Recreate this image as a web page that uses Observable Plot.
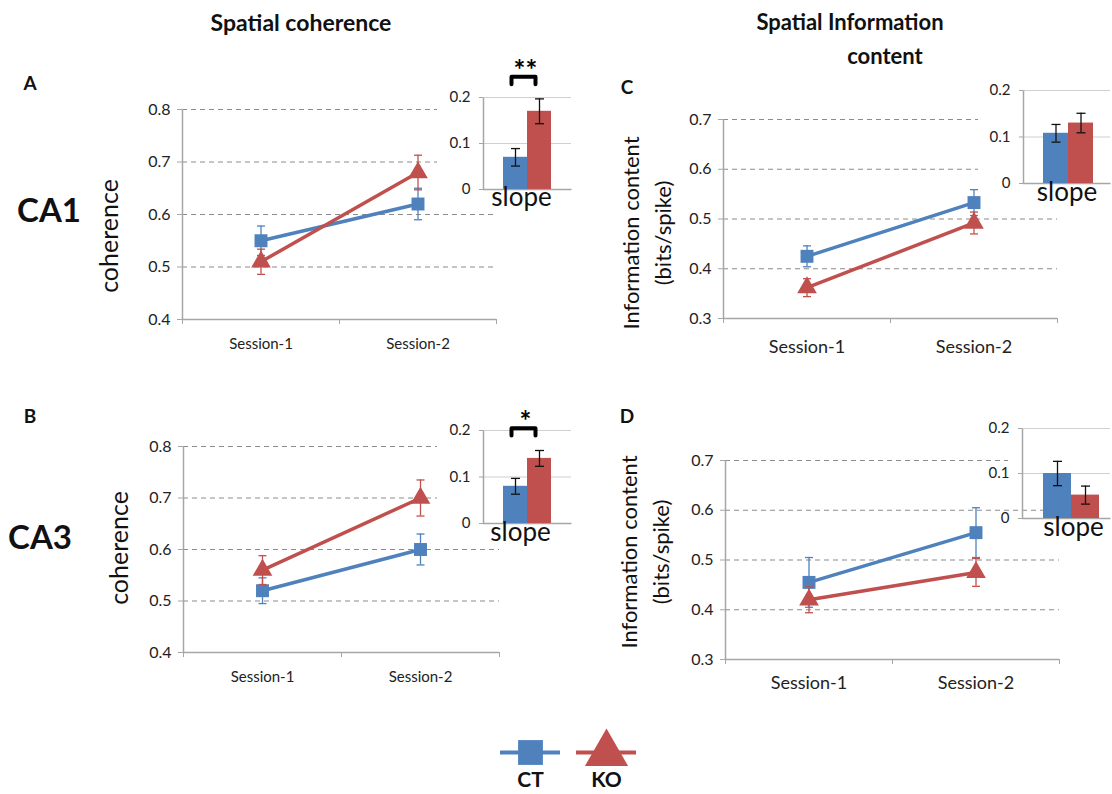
<!DOCTYPE html>
<html><head><meta charset="utf-8">
<script src="https://cdn.jsdelivr.net/npm/d3@7"></script>
<script src="https://cdn.jsdelivr.net/npm/@observablehq/plot@0.6"></script>
<style>
body{margin:0;background:#fff;font-family:Lato,"Open Sans",sans-serif;}
#root{position:relative;width:1112px;height:794px;overflow:hidden;background:#fff;}
.lbl{position:absolute;white-space:nowrap;line-height:1;color:#111;transform:translate(-50%,-50%);}
.bg{position:absolute;background:#fff;}
</style></head><body><div id="root"></div>
<script>
// ---------- data ----------
const sessions = ["Session-1", "Session-2"];
const groups = ["CT", "KO"];
const colors = ["#4F81BD", "#C0504D"];
const symbols = ["square", "triangle"];

// Panel A: CA1 spatial coherence
const aCT = [0.55, 0.62], aCTErr = [0.028, 0.030];
const aKO = [0.51, 0.68], aKOErr = [0.024, 0.033];
const aSlope = [0.07, 0.17], aSlopeErr = [0.019, 0.027];
// Panel B: CA3 spatial coherence
const bCT = [0.52, 0.60], bCTErr = [0.025, 0.030];
const bKO = [0.56, 0.70], bKOErr = [0.028, 0.035];
const bSlope = [0.08, 0.14], bSlopeErr = [0.017, 0.017];
// Panel C: CA1 information content
const cCT = [0.425, 0.533], cCTErr = [0.021, 0.026];
const cKO = [0.362, 0.492], cKOErr = [0.018, 0.022];
const cSlope = [0.108, 0.130], cSlopeErr = [0.019, 0.021];
// Panel D: CA3 information content
const dCT = [0.455, 0.555], dCTErr = [0.050, 0.050];
const dKO = [0.420, 0.475], dKOErr = [0.026, 0.028];
const dSlope = [0.100, 0.052], dSlopeErr = [0.027, 0.020];

const coherenceTicks = [0.4, 0.5, 0.6, 0.7, 0.8];
const infoTicks = [0.3, 0.4, 0.5, 0.6, 0.7];
const slopeTicks = [0, 0.1, 0.2];

// ---------- helpers ----------
const root = document.getElementById("root");
const FONT = "Lato, 'Open Sans', sans-serif";
const axisGray = "#a6a6a6";
const cap = {draw(ctx, size) { const w = Math.sqrt(size / Math.PI); ctx.moveTo(-w, 0); ctx.lineTo(w, 0); }};

function place(node, left, top) {
  node.style.position = "absolute"; node.style.left = left + "px"; node.style.top = top + "px";
  root.appendChild(node);
}
function label(text, cx, cy, size, weight = 400, rotate = 0) {
  const d = document.createElement("div");
  d.className = "lbl"; d.textContent = text;
  d.style.left = cx + "px"; d.style.top = cy + "px";
  d.style.fontSize = size + "px"; d.style.fontWeight = weight;
  d.style.transform = `translate(-50%,-50%) rotate(${rotate}deg)`;
  root.appendChild(d);
}
function whiteBox(x, y, w, h) {
  const d = document.createElement("div");
  d.className = "bg";
  d.style.left = x + "px"; d.style.top = y + "px"; d.style.width = w + "px"; d.style.height = h + "px";
  root.appendChild(d);
}

function mainPanel(o) {
  const rows = [];
  o.series.forEach((s, k) => s.vals.forEach((v, i) =>
    rows.push({group: groups[k], session: sessions[i], pos: i + 0.5, v, e: s.errs[i]})));
  const marks = [
    Plot.gridY(o.ticks.slice(1), {stroke: "#8c8c8c", strokeOpacity: 1, strokeDasharray: "5,4", strokeWidth: 1.2}),
    Plot.ruleY([o.ticks[0]], {stroke: axisGray, strokeWidth: 1.5}),
    Plot.ruleX([0], {stroke: axisGray, strokeWidth: 1.5}),
    Plot.axisY({ticks: o.ticks, tickSize: 5, tickPadding: 7, tickFormat: d3.format(".1f"),
      stroke: axisGray, fill: "#222", fontSize: o.tickFont, label: null}),
    Plot.axisX({ticks: d3.range(sessions.length + 1), tickSize: 5, tickFormat: () => "", stroke: axisGray, label: null}),
    Plot.axisX({ticks: sessions.map((_, i) => i + 0.5), tickSize: 0, tickPadding: o.sessPad,
      tickFormat: d => sessions[Math.floor(d)], fill: "#222", fontSize: o.sessFont, label: null})
  ];
  groups.forEach((g, k) => {
    const d = rows.filter(r => r.group === g);
    marks.push(
      Plot.ruleX(d, {x: "pos", y1: r => r.v - r.e, y2: r => r.v + r.e, stroke: colors[k], strokeWidth: 1.3}),
      Plot.dot(d, {x: "pos", y: r => r.v - r.e, symbol: cap, r: 4, stroke: colors[k], strokeWidth: 1.3, fill: "none"}),
      Plot.dot(d, {x: "pos", y: r => r.v + r.e, symbol: cap, r: 4, stroke: colors[k], strokeWidth: 1.3, fill: "none"}),
      Plot.line(d, {x: "pos", y: "v", stroke: colors[k], strokeWidth: 3.5}),
      Plot.dot(d, {x: "pos", y: "v", symbol: symbols[k], r: 7.3, fill: colors[k], stroke: "none"})
    );
  });
  const svg = Plot.plot({
    width: o.w, height: o.h,
    marginLeft: o.mL, marginRight: o.mR, marginTop: o.mT, marginBottom: o.mB,
    x: {domain: [0, sessions.length], label: null},
    y: {domain: [o.ticks[0], o.ticks[o.ticks.length - 1]], label: null},
    style: {background: "transparent", fontFamily: FONT, overflow: "visible"},
    marks
  });
  place(svg, o.left, o.top);
}

function insetPanel(o) {
  const rows = groups.map((g, k) => ({group: g, v: o.vals[k], e: o.errs[k]}));
  const fw = o.w - o.mL - o.mR, fh = o.h - o.mT - o.mB;
  const marks = [
    Plot.gridY(slopeTicks.slice(1), {stroke: "#d0d0d0", strokeOpacity: 1, strokeWidth: 1.2}),
    Plot.frame({stroke: axisGray, strokeWidth: 1.5, strokeDasharray: `0 ${fw + fh} ${fw + fh}`}),
    Plot.axisY({ticks: slopeTicks, tickSize: 4, tickPadding: 9, label: null,
      tickFormat: d => d === 0 ? "0" : d3.format(".1f")(d), stroke: axisGray, fill: "#222", fontSize: 15}),
    Plot.barY(rows, {x: "group", y: "v", fill: "group"}),
    Plot.ruleX(rows, {x: "group", y1: r => r.v - r.e, y2: r => r.v + r.e, stroke: "#111", strokeWidth: 1.3}),
    Plot.dot(rows, {x: "group", y: r => r.v - r.e, symbol: cap, r: 4.5, stroke: "#111", strokeWidth: 1.3, fill: "none"}),
    Plot.dot(rows, {x: "group", y: r => r.v + r.e, symbol: cap, r: 4.5, stroke: "#111", strokeWidth: 1.3, fill: "none"}),
    Plot.text(["slope"], {frameAnchor: "bottom", dx: o.slopeDx, dy: o.slopeDy, fontSize: 26, fill: "#111"})
  ];
  if (o.sig) {
    const top = d3.max(rows, r => r.v + r.e) + 0.048;
    const bracket = [
      {group: groups[0], v: top - 0.016}, {group: groups[0], v: top},
      {group: groups[1], v: top}, {group: groups[1], v: top - 0.016}
    ];
    marks.push(
      Plot.line(bracket, {x: "group", y: "v", dx: -4, stroke: "#000", strokeWidth: 4, strokeLinejoin: "round", strokeLinecap: "round"}),
      Plot.text([o.sig], {x: () => groups[0], y: () => top, dx: 10, dy: -6, fontSize: 28, fontWeight: 700, fill: "#000"})
    );
  }
  const svg = Plot.plot({
    width: o.w, height: o.h,
    marginLeft: o.mL, marginRight: o.mR, marginTop: o.mT, marginBottom: o.mB,
    x: {type: "band", domain: groups, range: o.barRange, padding: 0, label: null, axis: null},
    y: {domain: [0, 0.2], label: null},
    color: {domain: groups, range: colors},
    style: {background: "transparent", fontFamily: FONT, overflow: "visible"},
    marks
  });
  place(svg, o.left, o.top);
}

// ---------- text ----------
label("Spatial coherence", 301, 22, 23, 700);
label("Spatial Information", 850, 22, 22, 700);
label("content", 885, 56, 22, 700);
label("A", 30, 82, 19, 700);
label("B", 30, 415, 19, 700);
label("C", 627, 86, 19, 700);
label("D", 627, 415, 19, 700);
label("CA1", 49, 209, 33, 700);
label("CA3", 40, 536, 33, 700);
label("coherence", 108, 236, 25, 400, -90);
label("coherence", 118, 548, 25, 400, -90);
label("Information content", 631, 233, 22, 400, -90);
label("(bits/spike)", 663, 233, 22, 400, -90);
label("Information content", 629, 552, 22, 400, -90);
label("(bits/spike)", 661, 552, 22, 400, -90);

// ---------- panels ----------
mainPanel({left: 100, top: 90, w: 400, h: 270, mL: 82, mR: 4, mT: 19, mB: 41, ticks: coherenceTicks,
  tickFont: 16, sessFont: 15, sessPad: 19,
  series: [{vals: aCT, errs: aCTErr}, {vals: aKO, errs: aKOErr}]});
mainPanel({left: 100, top: 425, w: 400, h: 270, mL: 83, mR: 1, mT: 21, mB: 43, ticks: coherenceTicks,
  tickFont: 16, sessFont: 15, sessPad: 19,
  series: [{vals: bCT, errs: bCTErr}, {vals: bKO, errs: bKOErr}]});
mainPanel({left: 600, top: 95, w: 470, h: 270, mL: 123, mR: 13, mT: 24, mB: 47, ticks: infoTicks,
  tickFont: 16, sessFont: 18, sessPad: 22,
  series: [{vals: cCT, errs: cCTErr}, {vals: cKO, errs: cKOErr}]});
mainPanel({left: 600, top: 435, w: 470, h: 270, mL: 125, mR: 11, mT: 25, mB: 46, ticks: infoTicks,
  tickFont: 16, sessFont: 18, sessPad: 17,
  series: [{vals: dCT, errs: dCTErr}, {vals: dKO, errs: dKOErr}]});

whiteBox(437, 50, 145, 155);
whiteBox(437, 385, 145, 155);
whiteBox(978, 70, 134, 125);
whiteBox(1008, 410, 104, 88);

insetPanel({left: 437, top: 50, w: 140, h: 170, mL: 46, mR: 6, mT: 47, mB: 31, barRange: [65, 114],
  slopeDx: -6, slopeDy: 16, vals: aSlope, errs: aSlopeErr, sig: "**"});
insetPanel({left: 437, top: 385, w: 140, h: 170, mL: 46, mR: 6, mT: 45, mB: 32, barRange: [66, 114],
  slopeDx: -7, slopeDy: 17, vals: bSlope, errs: bSlopeErr, sig: "*"});
insetPanel({left: 978, top: 70, w: 134, h: 145, mL: 45, mR: 2, mT: 20, mB: 32, barRange: [65, 115],
  slopeDx: 0, slopeDy: 17, vals: cSlope, errs: cSlopeErr});
insetPanel({left: 975, top: 410, w: 137, h: 140, mL: 47, mR: 2, mT: 18, mB: 32, barRange: [68, 124],
  slopeDx: 7, slopeDy: 17, vals: dSlope, errs: dSlopeErr});

// ---------- legend ----------
const legendRows = groups.map((g, k) => ({group: g, k}));
const legend = Plot.plot({
  width: 200, height: 68, margin: 0,
  x: {type: "band", domain: groups, range: [22, 174], padding: 0, axis: null, label: null},
  y: {domain: [0, 1], range: [26, 54], axis: null, label: null},
  color: {domain: groups, range: colors},
  style: {background: "transparent", fontFamily: FONT, overflow: "visible"},
  marks: [
    Plot.tickY(legendRows, {x: "group", y: () => 0, stroke: "group", strokeWidth: 4, insetLeft: 8, insetRight: 8}),
    Plot.dot(legendRows.filter(d => d.k === 0), {x: "group", y: () => 0, symbol: symbols[0], r: 14, fill: "group", stroke: "none"}),
    Plot.dot(legendRows.filter(d => d.k === 1), {x: "group", y: () => 0, dy: 1, symbol: symbols[1], r: 16, fill: "group", stroke: "none"}),
    Plot.text(legendRows, {x: "group", y: () => 1, text: "group", fontSize: 21, fontWeight: 700, fill: "#111"})
  ]
});
place(legend, 470, 726);
</script></body></html>
